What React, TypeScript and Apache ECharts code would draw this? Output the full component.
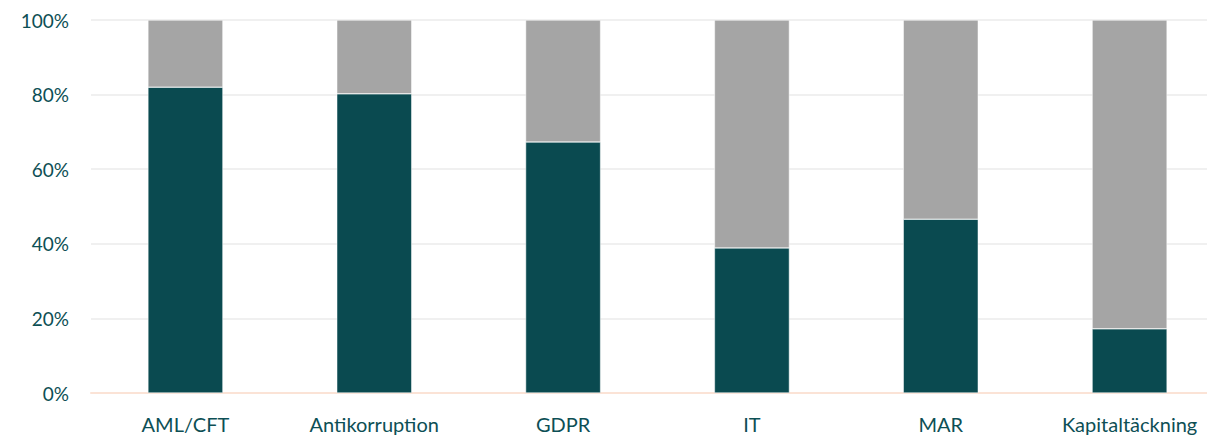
import React, { useEffect, useRef } from "react";
import * as echarts from "echarts";

const categories = ["AML/CFT", "Antikorruption", "GDPR", "IT", "MAR", "Kapitaltäckning"];
const darkValues = [82, 80.2, 67.3, 38.9, 46.6, 17.2];
const greyValues = [18, 19.8, 32.7, 61.1, 53.4, 82.8];
const yTicks = { min: 0, max: 100, interval: 20 };

export default function App() {
  const ref = useRef<HTMLDivElement>(null);
  useEffect(() => {
    if (!ref.current) return;
    const chart = echarts.init(ref.current, undefined, { renderer: "svg" });
    const textColor = "#0d4f55";
    chart.setOption({
      animation: false,
      grid: { left: 91, right: 0, top: 20, bottom: 44, containLabel: false },
      xAxis: {
        type: "category",
        data: categories,
        axisTick: { show: false },
        axisLine: { show: true, lineStyle: { color: "#fbe3d6", width: 2 } },
        axisLabel: { color: textColor, fontFamily: "Lato", fontSize: 20, margin: 21 },
      },
      yAxis: {
        type: "value",
        min: yTicks.min,
        max: yTicks.max,
        interval: yTicks.interval,
        axisLine: { show: false },
        axisTick: { show: false },
        splitLine: { lineStyle: { color: "#f0f0f0", width: 2 } },
        axisLabel: { color: textColor, fontFamily: "Lato", fontSize: 19, margin: 22, formatter: "{value}%" },
      },
      series: [
        {
          type: "bar",
          stack: "a",
          data: darkValues,
          barWidth: 75,
          itemStyle: { color: "#0a4a50", borderColor: "#ffffff", borderWidth: 0.5 },
        },
        {
          type: "bar",
          stack: "a",
          data: greyValues,
          barWidth: 75,
          itemStyle: { color: "#a5a5a5", borderColor: "#ffffff", borderWidth: 0.5 },
        },
      ],
    });
    return () => chart.dispose();
  }, []);
  return (
    <div style={{ position: "absolute", left: 0, top: 0, width: 1207, height: 437, overflow: "hidden" }}>
      <div ref={ref} style={{ width: 1224, height: 437 }} />
    </div>
  );
}
